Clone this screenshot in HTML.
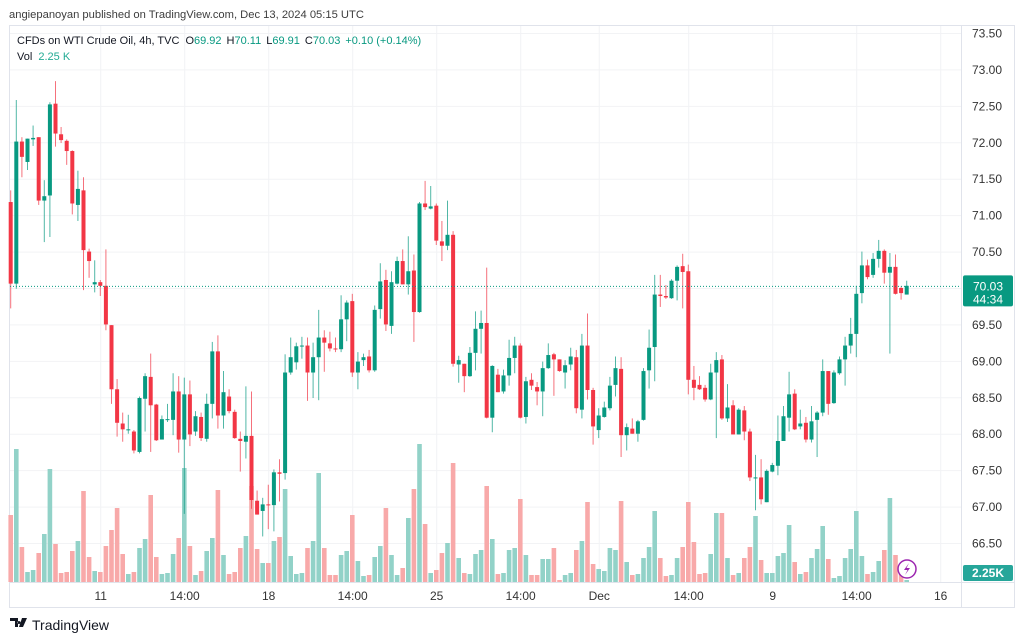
<!DOCTYPE html>
<html><head><meta charset="utf-8"><style>
html,body{margin:0;padding:0;background:#fff;}
body{width:1024px;height:641px;overflow:hidden;font-family:"Liberation Sans",sans-serif;}
</style></head><body>
<svg id="chart" width="1024" height="641" xmlns="http://www.w3.org/2000/svg" style="position:absolute;left:0;top:0;font-family:'Liberation Sans',sans-serif">
 <rect x="0" y="0" width="1024" height="641" fill="#fff"/>
 <text x="9" y="18" font-size="11.2" fill="#3d3d3d">angiepanoyan published on TradingView.com, Dec 13, 2024 05:15 UTC</text>
 <rect x="9.5" y="25.5" width="1005" height="582" fill="none" stroke="#e0e3eb"/>
 <g id="grid"></g>
 <g id="vols"></g>
 <g id="candles"></g>
 <line id="lastline" x1="10" x2="961" stroke="#089981" stroke-width="1" stroke-dasharray="1,2"/>
 <line x1="961.5" y1="26" x2="961.5" y2="607" stroke="#e0e3eb"/>
 <line x1="10" y1="582.5" x2="1014" y2="582.5" stroke="#e0e3eb"/>
 <g id="yaxis"></g>
 <g id="xaxis"></g>
 <g font-size="11">
  <text x="17" y="44" fill="#131722">CFDs on WTI Crude Oil, 4h, TVC <tspan dx="3">O</tspan><tspan fill="#089981">69.92</tspan><tspan dx="5">H</tspan><tspan fill="#089981">70.11</tspan><tspan dx="5">L</tspan><tspan fill="#089981">69.91</tspan><tspan dx="5">C</tspan><tspan fill="#089981">70.03</tspan><tspan dx="5" fill="#089981">+0.10 (+0.14%)</tspan></text>
  <text x="17" y="60" fill="#131722">Vol <tspan dx="3" fill="#22ab94">2.25 K</tspan></text>
 </g>
 <g id="pricetag"></g>
 <rect x="963" y="565" width="50" height="16" rx="2" fill="#26a69a"/>
 <text x="988" y="577" text-anchor="middle" font-size="12" fill="#fff" font-weight="bold">2.25K</text>
 <g>
  <circle cx="907" cy="569" r="9" fill="#fff" stroke="#9c27b0" stroke-width="1.5"/>
  <path d="M909 563 L904 570 L907.5 570 L905 575 L910 568 L906.5 568 Z" fill="#9c27b0"/>
 </g>
 <g>
  <path d="M10 618 h8 v9 h-3 v-6 h-5 z M19 621 a1.5 1.5 0 1 0 0.01 0 M22 618 h5 l-4 9 h-4 z" fill="#131722"/>
  <text x="32" y="630" font-size="14" fill="#131722">TradingView</text>
 </g>
</svg>
<script>
const opens=[71.18,70.06,72.01,71.73,72.04,72.07,71.20,71.27,72.53,72.11,72.02,71.88,71.14,71.34,70.50,70.05,70.08,70.03,69.49,68.61,68.14,68.05,68.03,
67.75,68.48,68.78,68.40,67.92,68.19,68.19,68.58,67.92,68.54,68.03,68.23,67.93,68.41,69.13,68.25,68.51,68.30,67.93,67.89,67.97,67.08,
66.94,67.03,67.02,67.47,67.46,68.84,68.98,69.21,69.21,68.84,69.05,69.32,69.24,69.17,69.16,69.57,69.82,68.84,69.01,69.06,68.87,69.71,
70.11,69.48,70.06,70.37,70.05,70.24,69.67,71.16,71.09,71.13,70.64,70.58,70.73,68.95,68.96,68.79,69.11,69.44,69.52,68.22,68.81,
68.58,68.80,69.04,69.21,68.23,68.74,68.64,68.58,68.90,69.09,69.02,68.84,68.95,69.05,68.33,69.21,68.60,68.05,68.23,68.35,68.67,
68.89,67.98,68.07,68.00,68.19,68.87,69.19,69.91,69.89,69.86,70.10,70.30,70.23,68.74,68.67,68.63,68.47,68.84,69.02,68.21,68.39,67.99,
68.32,68.03,67.40,67.40,67.06,67.48,67.56,67.90,68.22,68.55,68.10,68.15,67.92,68.19,68.29,68.86,68.42,68.83,69.02,69.21,69.37,
69.93,70.31,70.18,70.40,70.51,70.21,70.29,70.00,69.91];
const highs=[71.34,72.58,72.07,72.05,72.23,72.07,71.48,72.55,72.84,72.21,72.04,71.89,71.61,71.52,70.54,70.38,70.11,70.53,69.49,68.75,68.29,68.26,68.05,
68.51,68.83,69.10,68.41,68.25,68.41,68.83,68.79,68.77,68.73,68.31,68.29,68.55,69.26,69.35,68.86,68.61,68.33,68.03,68.65,68.58,67.22,
67.12,67.30,67.51,67.65,69.09,69.32,69.25,69.33,69.32,69.25,69.70,69.42,69.40,69.32,69.90,69.83,69.92,69.12,69.10,69.15,69.76,70.34,
70.25,70.23,70.43,70.53,70.71,70.46,71.18,71.47,71.40,71.16,70.92,71.20,70.78,69.07,68.96,69.19,69.68,69.69,70.28,68.94,68.89,
68.88,69.29,69.33,69.24,68.78,68.83,68.71,68.99,69.24,69.11,69.02,69.01,69.18,69.15,69.37,69.65,68.63,68.35,68.44,68.78,69.06,
69.05,68.14,68.21,68.19,68.90,69.43,70.18,70.18,70.04,70.12,70.31,70.47,70.32,68.93,68.79,68.67,68.96,69.12,69.08,68.68,68.46,68.35,
68.38,68.07,67.71,67.65,67.51,67.60,68.25,68.38,68.85,68.61,68.33,68.23,68.38,68.31,69.02,68.86,68.87,69.06,69.33,69.59,70.03,
70.50,70.39,70.48,70.66,70.53,70.48,70.46,70.02,70.10];
const lows=[69.72,69.99,71.52,71.62,71.95,71.14,70.63,70.70,71.94,71.99,71.69,71.01,70.92,69.97,70.14,69.94,69.89,69.42,68.41,67.96,67.89,68.00,67.73,
67.73,68.03,67.75,67.90,67.92,68.16,67.98,67.74,66.90,67.83,67.97,67.90,67.89,68.21,68.07,68.07,68.28,67.93,67.48,67.66,66.97,66.89,
66.59,66.69,66.66,67.07,67.37,68.81,68.88,69.03,68.45,68.49,68.46,68.85,69.13,69.12,69.12,69.27,68.78,68.61,68.93,68.84,68.85,69.58,
69.41,69.37,70.05,70.05,69.91,69.26,69.66,71.07,71.08,70.59,70.37,70.52,68.92,68.70,68.57,68.78,68.87,69.10,68.21,68.02,68.57,
68.55,68.66,68.83,68.21,68.14,68.60,68.39,68.24,68.89,68.52,68.85,68.62,68.87,68.28,68.21,68.47,67.85,67.94,68.22,68.32,68.51,
67.68,67.77,68.00,67.89,68.18,68.62,68.72,69.74,69.85,69.85,69.83,69.72,68.54,68.46,68.60,68.44,68.46,67.94,68.19,68.16,67.99,67.99,
67.91,67.35,66.95,67.03,67.06,67.47,67.43,67.90,68.03,68.05,68.06,67.88,67.88,67.68,68.24,68.26,68.41,68.81,68.66,69.10,69.05,
69.79,70.12,70.14,70.28,70.06,69.10,69.91,69.84,69.91];
const closes=[70.06,72.01,71.80,72.05,72.06,71.20,71.26,72.52,72.12,72.03,71.88,71.16,71.36,70.52,70.37,70.08,70.03,69.50,68.61,68.15,68.06,68.06,67.77,
68.49,68.79,68.39,67.91,68.20,68.20,68.58,67.92,68.54,67.99,68.24,67.94,68.41,69.13,68.25,68.57,68.31,67.94,67.90,67.97,67.09,66.89,
67.03,67.02,67.47,67.45,68.84,69.05,69.20,69.21,68.84,69.05,69.32,69.25,69.17,69.16,69.57,69.80,68.84,68.99,69.05,68.87,69.70,70.09,
69.50,70.08,70.37,70.05,70.23,69.67,71.16,71.11,71.12,70.65,70.58,70.73,68.96,69.01,68.79,69.11,69.44,69.52,68.22,68.93,68.57,
68.80,69.04,69.21,68.22,68.72,68.66,68.58,68.90,69.08,69.02,68.86,68.94,69.06,68.35,69.21,68.60,68.10,68.25,68.36,68.66,68.90,
67.98,68.09,68.00,68.17,68.86,69.18,69.91,69.89,69.87,70.10,70.29,70.22,68.74,68.63,68.61,68.47,68.84,69.01,68.21,68.36,67.99,68.33,
68.03,67.40,67.40,67.10,67.49,67.57,67.90,68.24,68.54,68.06,68.14,67.92,68.17,68.29,68.86,68.41,68.84,69.02,69.21,69.37,69.92,
70.31,70.15,70.40,70.51,70.21,70.29,69.92,69.93,70.03];
const volumes=[67,133,35,10,12,29,48,113,38,9,10,31,41,91,25,11,10,36,52,74,28,8,10,
34,43,87,25,8,9,28,44,114,36,7,11,31,44,92,27,8,10,34,46,96,33,
19,19,41,45,93,26,8,9,34,41,109,34,7,7,27,31,67,21,6,7,25,36,
74,27,7,14,64,93,138,58,9,12,29,39,119,24,9,8,28,32,96,43,8,
9,32,34,83,27,7,7,23,23,34,2,7,9,32,41,80,18,13,11,34,32,
81,20,7,8,24,35,71,24,6,7,24,35,80,40,8,9,28,69,69,24,7,9,
24,35,66,22,9,9,26,29,57,20,8,10,24,33,56,23,4,6,24,33,71,
26,8,10,21,32,84,27,11,2];
const priceTicks=[73.5,73.0,72.5,72.0,71.5,71.0,70.5,70.0,69.5,69.0,68.5,68.0,67.5,67.0,66.5];
const timeLabels=["11","14:00","18","14:00","25","14:00","Dec","14:00","9","14:00","16"];
const timeLabelBars=[16.07,31.07,46.07,61.07,76.07,91.07,105.1,121.07,136.07,151.07,166.07];
const lastPrice=70.03;

const NS="http://www.w3.org/2000/svg";
function xAt(i){return 10.7+i*5.6;}
function yAt(p){return 33+(73.5-p)*72.857;}
function yVol(v){return 582-v;}
function mk(tag,attrs,parent){const e=document.createElementNS(NS,tag);for(const k in attrs)e.setAttribute(k,attrs[k]);parent.appendChild(e);return e;}
const G=id=>document.getElementById(id);
const UP="#089981",DN="#f23645",VUP="#92d2c8",VDN="#f8a9a9";

priceTicks.forEach(p=>{
  const l=mk('line',{x1:10,x2:961,y1:yAt(p)+0.5,y2:yAt(p)+0.5,stroke:'#f2f3f5'},G('grid'));
  
  
  const t=mk('text',{x:1002,y:yAt(p)+4.5,'text-anchor':'end','font-size':'12',fill:'#333'},G('yaxis'));
  t.textContent=p.toFixed(2);
  
  
});
timeLabels.forEach((s,k)=>{
  const x=xAt(timeLabelBars[k]);
  const l=mk('line',{x1:x,x2:x,y1:26,y2:582,stroke:'#f2f3f5'},G('grid'));
  
  
  const t=mk('text',{x:x,y:600,'text-anchor':'middle','font-size':'12',fill:'#333'},G('xaxis'));
  t.textContent=s;
  
  
});
for(let i=0;i<closes.length;i++){
  const x=xAt(i), up=closes[i]>=opens[i];
  const vb=mk('rect',{x:x-2.3,y:yVol(volumes[i]),width:4.6,height:582-yVol(volumes[i]),fill:up?VUP:VDN},G('vols'));
  
  
  const c=up?UP:DN;
  const w=mk('line',{x1:x,x2:x,y1:yAt(highs[i]),y2:yAt(lows[i]),stroke:c,'stroke-width':1,opacity:0.7},G('candles'));
  
  
  const top=yAt(Math.max(opens[i],closes[i])),bot=yAt(Math.min(opens[i],closes[i]));
  const b=mk('rect',{x:x-2,y:top,width:4,height:Math.max(1,bot-top),fill:c},G('candles'));
  
  
}
const ly=yAt(lastPrice)+0.5;
G('lastline').setAttribute('y1',ly);G('lastline').setAttribute('y2',ly);
mk('rect',{x:963,y:ly-11,width:50,height:31,rx:2,fill:UP},G('pricetag'));
const t1=mk('text',{x:988,y:ly+4,'text-anchor':'middle','font-size':'12',fill:'#fff'},G('pricetag'));t1.textContent=lastPrice.toFixed(2);
const t2=mk('text',{x:988,y:ly+17,'text-anchor':'middle','font-size':'12',fill:'#fff'},G('pricetag'));t2.textContent="44:34";
</script>
</body></html>
